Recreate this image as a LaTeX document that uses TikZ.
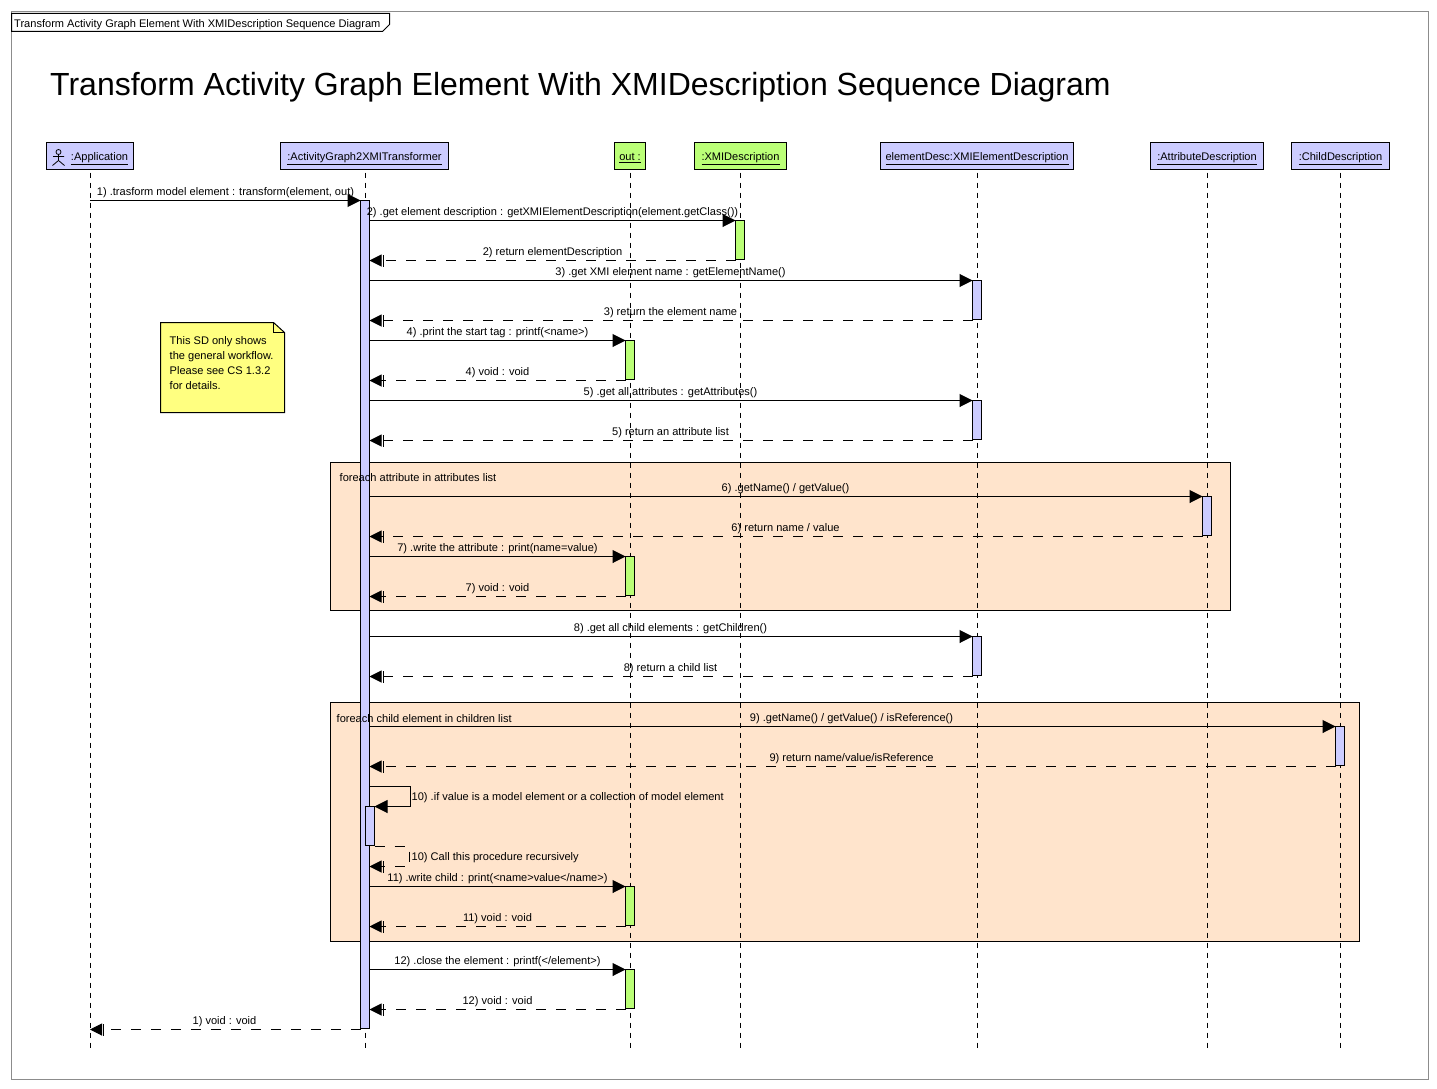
\documentclass[tikz,border=0pt]{standalone}
\usepackage{fontspec}
\setmainfont{Liberation Sans}
\usetikzlibrary{arrows.meta}
\definecolor{headblue}{HTML}{CCCCFF}
\definecolor{barblue}{HTML}{CCCCFF}
\definecolor{bargreen}{HTML}{BBFF77}
\definecolor{notey}{HTML}{FFFF80}
\definecolor{loopfill}{HTML}{FFE4CC}
\definecolor{framegray}{HTML}{8C8C8C}
\tikzset{
  headbox/.style={draw=black,line width=1pt,inner sep=0pt,outer sep=0pt,minimum height=27pt,font=\fontsize{11.05}{12}\selectfont},
  lifedash/.style={line width=1pt,dash pattern=on 5pt off 5pt},
  actbox/.style={draw=black,line width=1pt,inner sep=0pt,outer sep=0pt,minimum width=9pt},
  callmsg/.style={line width=1pt,-{Triangle[length=13pt,width=13pt]}},
  retmsg/.style={line width=1pt,dash pattern=on 10pt off 10pt,-{Bar[width=12pt,length=0pt,line width=1pt,sep=1pt]Triangle[length=12pt,width=12pt]}},
  msgtext/.style={inner sep=0pt,yshift=-1.5pt,font=\fontsize{11.05}{12}\selectfont},
  loopbox/.style={draw=black,line width=1pt,fill=loopfill,inner sep=0pt,outer sep=0pt},
}
\newcommand{\headnode}[6]{\node[headbox,fill=#6,minimum width=#4pt] (#1) at (#2,#3) {\raisebox{-4.5pt}[0pt][0pt]{#5}};}
\newcommand{\life}[2]{\draw[lifedash] ([xshift=#2pt,yshift=-3pt]#1.south) -- ([xshift=#2pt]#1.south |- 0,1047);}
\newcommand{\actnode}[5]{\node[actbox,fill=#5,minimum height=#4pt-#3pt] (#1) at (#2,{(#3+#4)/2}) {};}
\newcommand{\callto}[6]{\draw[callmsg] (#1 |- 0,#3) -- (#2 |- 0,#3); \node[msgtext] (c#3) at (#4,#5) {#6};}
\newcommand{\retto}[6]{\draw[retmsg] (#1 |- 0,#3) -- (#2 |- 0,#3); \node[msgtext] (r#3) at (#4,#5) {#6};}
\begin{document}
\begin{tikzpicture}[x=1pt,y=-1pt]
\useasboundingbox (-0.5,-0.5) rectangle (1436.5,1088.5);
\fill[white] (-0.5,-0.5) rectangle (1436.5,1088.5);
\draw[framegray,line width=1pt] (11,11) rectangle (1428,1079);
\draw[line width=1pt,fill=white] (11,13) -- (389,13) -- (389,24) -- (382,31) -- (11,31) -- cycle;
\node[msgtext,anchor=west] (frametitle) at (13.5,23) {Transform Activity Graph Element With XMIDescription Sequence Diagram};
\node[inner sep=0pt,anchor=west,font=\fontsize{32}{36}\selectfont] (title) at (49.5,87) {Transform Activity Graph Element With XMIDescription Sequence Diagram};
% loop boxes
\node[loopbox,minimum width=900pt,minimum height=148pt] (loopa) at (780,536) {};
\node[loopbox,minimum width=1029pt,minimum height=239pt] (loopb) at (844.5,821.5) {};
% heads
\headnode{app}{89.5}{155.5}{87}{\hspace{19pt}\underline{:Application}}{headblue}
\headnode{trans}{364}{155.5}{168}{\underline{:ActivityGraph2XMITransformer}}{headblue}
\headnode{out}{629.5}{155.5}{31}{\underline{out :}}{bargreen}
\headnode{xmi}{740}{155.5}{92}{\underline{:XMIDescription}}{bargreen}
\headnode{elem}{976.5}{155.5}{193}{\underline{elementDesc:XMIElementDescription}}{headblue}
\headnode{attr}{1206.5}{155.5}{113}{\underline{:AttributeDescription}}{headblue}
\headnode{child}{1340}{155.5}{98}{\underline{:ChildDescription}}{headblue}
% actor
\draw[line width=0.8pt] (58,151.5) circle (2.5pt);
\draw[line width=0.8pt] (58,154) -- (58,160) (52.5,156) -- (63.5,156) (52,165) -- (58,160) -- (64,165);
% lifelines
\life{app}{0.5}\life{trans}{1}\life{out}{0.5}\life{xmi}{0}\life{elem}{0.5}\life{attr}{0.5}\life{child}{0}
% note
\draw[line width=1pt,fill=notey] (160,322) -- (273,322) -- (284,332) -- (284,412) -- (160,412) -- cycle;
\draw[line width=1pt] (273,322) -- (273,332) -- (284,332);
\node[inner sep=0pt,anchor=north west,align=left,font=\fontsize{11.05}{15}\selectfont] (notetext) at (169,336) {This SD only shows\\the general workflow.\\Please see CS 1.3.2\\for details.};
% activations
\actnode{main}{364.5}{200}{1028}{barblue}
\actnode{selfbar}{369.5}{806}{845}{barblue}
\actnode{xa}{739.5}{220}{259}{bargreen}
\actnode{ea}{976.5}{280}{319}{barblue}
\actnode{eb}{976.5}{400}{439}{barblue}
\actnode{ec}{976.5}{636}{675}{barblue}
\actnode{oa}{629.5}{340}{379}{bargreen}
\actnode{ob}{629.5}{556}{595}{bargreen}
\actnode{oc}{629.5}{886}{925}{bargreen}
\actnode{od}{629.5}{969}{1008}{bargreen}
\actnode{aa}{1206.5}{496}{535}{barblue}
\actnode{ca}{1339.5}{726}{765}{barblue}
% loop captions
\node[msgtext,anchor=west] (loopatext) at (339,476) {foreach attribute in attributes list};
\node[msgtext,anchor=west] (loopbtext) at (336,717) {foreach child element in children list};
% messages
\callto{app}{main.west}{200}{225}{191}{1) .trasform model element : transform(element, out)}
\callto{main.east}{xa.west}{220}{552}{211}{2) .get element description : getXMIElementDescription(element.getClass())}
\retto{xa.west}{main.east}{260}{552}{251}{2) return elementDescription}
\callto{main.east}{ea.west}{280}{670}{271}{3) .get XMI element name : getElementName()}
\retto{ea.west}{main.east}{320}{670}{311}{3) return the element name}
\callto{main.east}{oa.west}{340}{497}{331}{4) .print the start tag : printf(<name>)}
\retto{oa.west}{main.east}{380}{497}{371}{4) void : void}
\callto{main.east}{eb.west}{400}{670}{391}{5) .get all attributes : getAttributes()}
\retto{eb.west}{main.east}{440}{670}{431}{5) return an attribute list}
\callto{main.east}{aa.west}{496}{785}{487}{6) .getName() / getValue()}
\retto{aa.west}{main.east}{536}{785}{527}{6) return name / value}
\callto{main.east}{ob.west}{556}{497}{547}{7) .write the attribute : print(name=value)}
\retto{ob.west}{main.east}{596}{497}{587}{7) void : void}
\callto{main.east}{ec.west}{636}{670}{627}{8) .get all child elements : getChildren()}
\retto{ec.west}{main.east}{676}{670}{667}{8) return a child list}
\callto{main.east}{ca.west}{726}{851}{717}{9) .getName() / getValue() / isReference()}
\retto{ca.west}{main.east}{766}{851}{757}{9) return name/value/isReference}
\draw[callmsg] (main.east |- 0,786) -- (410,786) -- (410,806) -- (selfbar.east |- 0,806);
\node[msgtext,anchor=west] (c786) at (411,796) {10) .if value is a model element or a collection of model element};
\draw[retmsg] (selfbar.east |- 0,846) -- (409,846) -- (409,866) -- (main.east |- 0,866);
\node[msgtext,anchor=west] (r866) at (411,856) {10) Call this procedure recursively};
\callto{main.east}{oc.west}{886}{497}{877}{11) .write child : print(<name>value</name>)}
\retto{oc.west}{main.east}{926}{497}{917}{11) void : void}
\callto{main.east}{od.west}{969}{497}{960}{12) .close the element : printf(</element>)}
\retto{od.west}{main.east}{1009}{497}{1000}{12) void : void}
\retto{main.west}{app}{1029}{224}{1020}{1) void : void}
\end{tikzpicture}
\end{document}
